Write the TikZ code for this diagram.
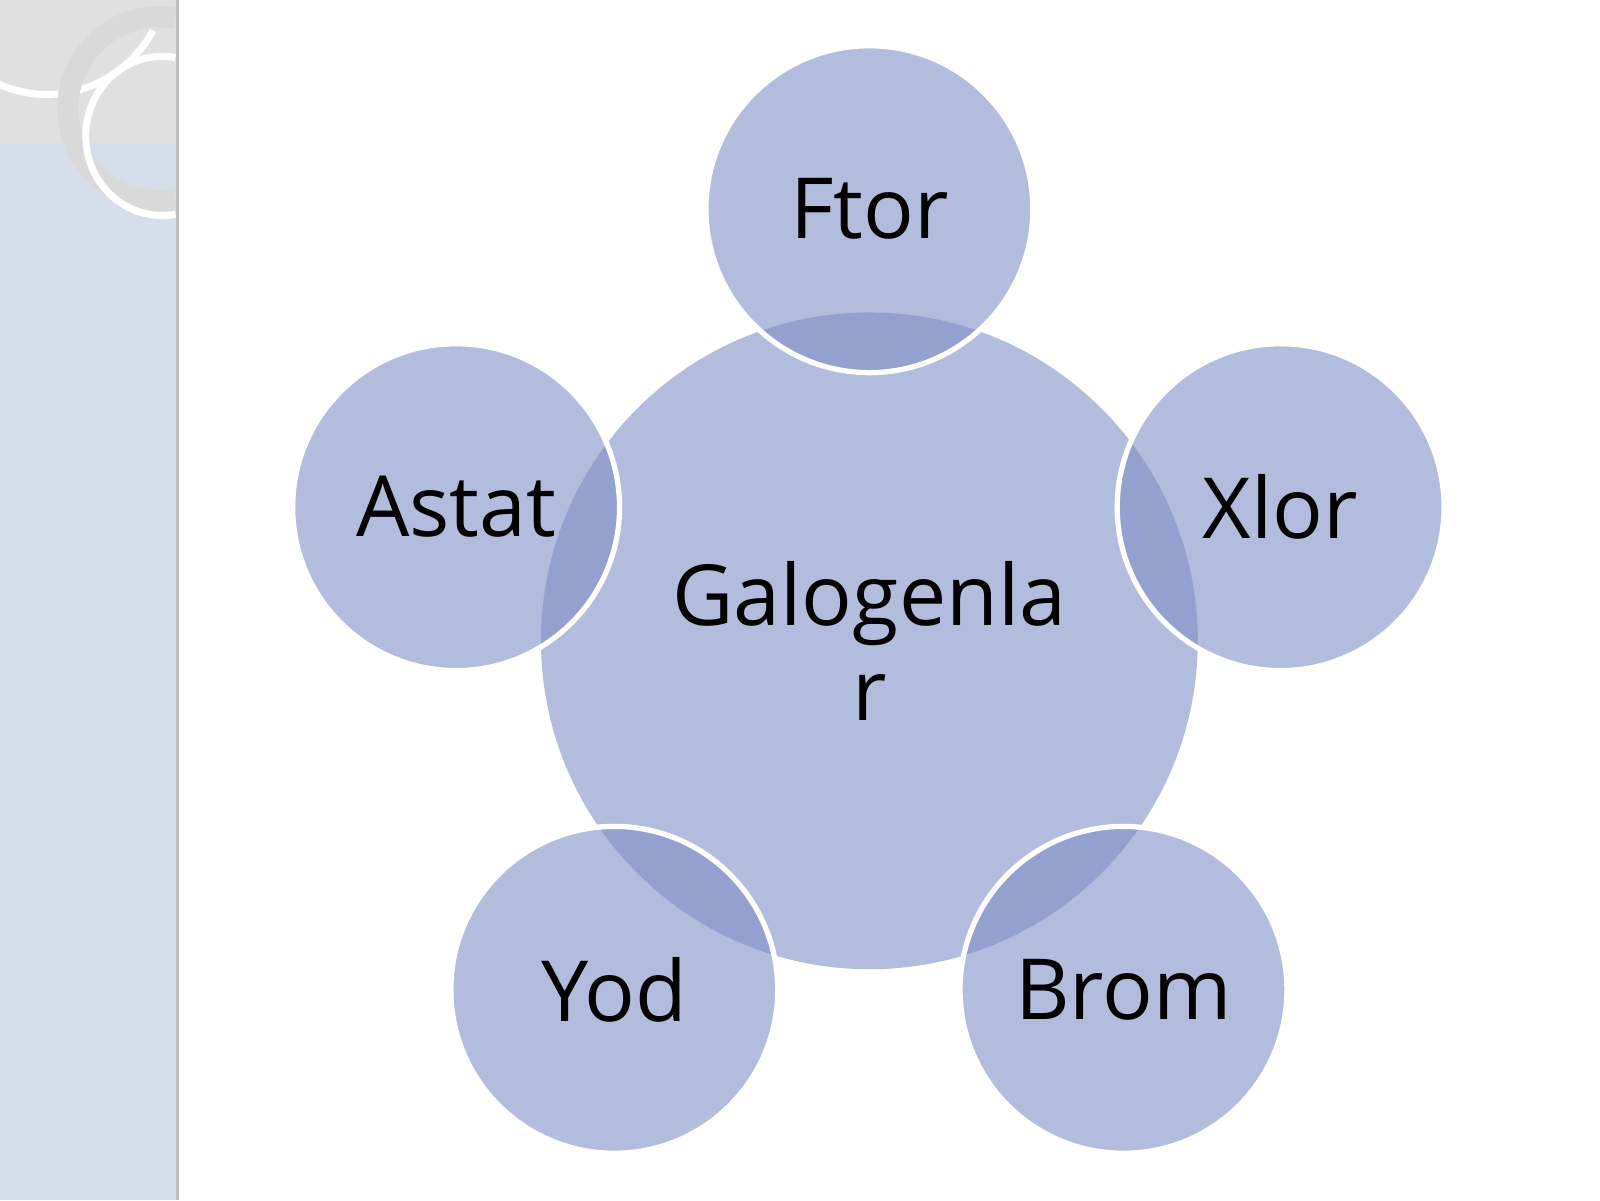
\documentclass[tikz,border=0pt]{standalone}
\usepackage{fontspec}
\setmainfont{Open Sans}
\definecolor{petal}{HTML}{7F8FC6}
\definecolor{band}{HTML}{D6DFE9}
\begin{document}
\begin{tikzpicture}[x=0.010204cm, y=-0.010204cm]
\tikzstyle{hub}=[circle, fill=petal, fill opacity=0.6, text opacity=1, minimum size=6.57cm, inner sep=0pt, font=\fontsize{24}{27}\selectfont, align=center, text width=4.4cm]
\tikzstyle{petal}=[hub, minimum size=3.27cm, draw=white, line width=1.5pt, text width=2.8cm]
\useasboundingbox (0,0) rectangle (1568,1176);
% side band
\fill[band] (0,0) rectangle (172,1176);
\fill[black!12] (0,0) rectangle (172,140);
\draw[white, line width=2pt] (150,30) arc (30:320:120 and 125);
\draw[black!15, line width=6pt] (172,195) arc (80:280:90 and 90);
\draw[white, line width=2pt] (172,210) arc (80:280:75 and 78);
\fill[black!25] (172,0) rectangle (175,1176);
% circles
\node[hub] (hub) at (852,628) {Galogenla\\r};
\node[petal] (ftor) at (852,205) {Ftor};
\node[petal] (xlor) at (1255,497) {Xlor};
\node[petal] (brom) at (1101,970) {Brom};
\node[petal] (yod) at (602,970) {Yod};
\node[petal] (astat) at (447,497) {Astat};
\end{tikzpicture}
\end{document}
